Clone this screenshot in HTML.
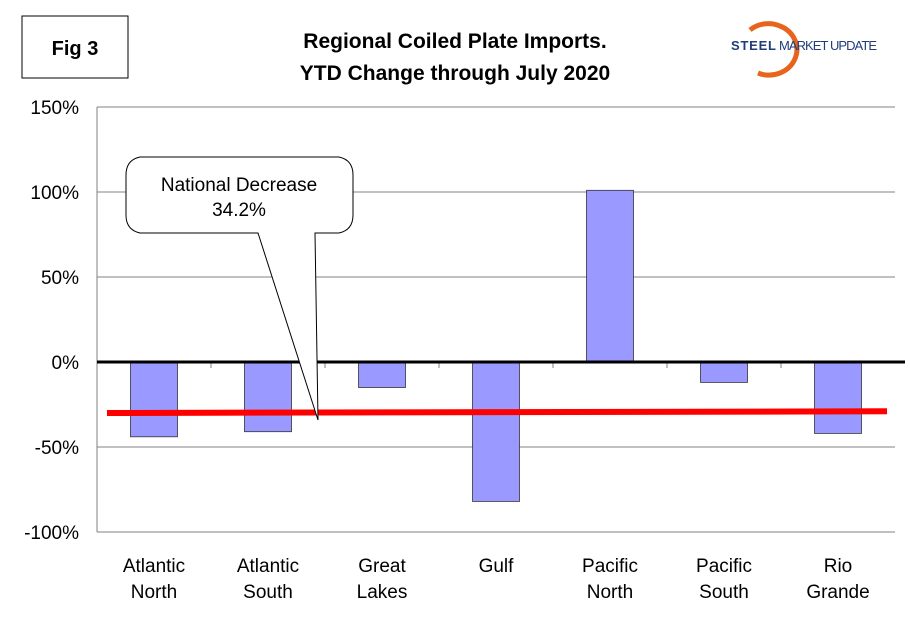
<!DOCTYPE html>
<html><head><meta charset="utf-8"><style>
body{margin:0;background:#fff;}
svg text{font-family:"Liberation Sans",Arial,sans-serif;}
</style></head><body>
<svg id="chart" width="910" height="622" viewBox="0 0 910 622">
<rect x="0" y="0" width="910" height="622" fill="#fff"/>
<rect x="22" y="16" width="106" height="62" fill="#fff" stroke="#000" stroke-width="1"/>
<text x="75" y="55" text-anchor="middle" font-size="20" font-weight="bold">Fig 3</text>
<text x="455" y="48" text-anchor="middle" font-size="21" font-weight="bold">Regional Coiled Plate Imports.</text>
<text x="455" y="80" text-anchor="middle" font-size="21" font-weight="bold">YTD Change through July 2020</text>
<g>
<path d="M750,30 A26,22 0 0,1 780,26 A24,22 0 0,1 758,73" fill="none" stroke="#e8641c" stroke-width="5"/>
<text x="731" y="50" font-size="13" font-weight="bold" fill="#1f3e7a" textLength="45">STEEL</text>
<text x="779" y="50" font-size="13" fill="#1f3e7a" textLength="98">MARKET UPDATE</text>
</g>
<g id="grid"></g>
<g id="bars"></g>
<g id="axes"></g>
<g>
<path d="M140,157 L339,157 Q353,160 353,175 L353,215 Q353,230 339,233 L315,233 L318,420 L258,233 L140,233 Q126,230 126,215 L126,175 Q126,160 140,157 Z" fill="#fff" stroke="#000" stroke-width="1"/>
<text x="239" y="191" text-anchor="middle" font-size="19">National Decrease</text>
<text x="239" y="216" text-anchor="middle" font-size="19">34.2%</text>
</g>
</svg>
<script>
const categories=[["Atlantic","North"],["Atlantic","South"],["Great","Lakes"],["Gulf"],["Pacific","North"],["Pacific","South"],["Rio","Grande"]];
const values=[-44,-41,-15,-82,101,-12,-42];
const yTicks=[150,100,50,0,-50,-100];
const tickLabels=["150%","100%","50%","0%","-50%","-100%"];
const nationalLine=[-30,-29];
const NS="http://www.w3.org/2000/svg";
const X0=97,X1=895,catW=(X1-X0)/categories.length;
function y(v){return 362-v*1.7;}
function xc(i){return X0+catW*(i+0.5);}
function mk(t,a,p){const e=document.createElementNS(NS,t);for(const k in a)e.setAttribute(k,a[k]);document.getElementById(p).appendChild(e);return e;}
yTicks.forEach((v,i)=>{
 if(v!==0&&v!==-100){const g=mk("line",{x1:X0,x2:X1,y1:y(v),y2:y(v),stroke:"#808080","stroke-width":1},"grid");
 
 }
 const t=mk("text",{x:X0-18,y:y(v)+7,"text-anchor":"end","font-size":19},"axes");t.textContent=tickLabels[i];
 
 
});
values.forEach((v,i)=>{
 const b=mk("rect",{x:xc(i)-23.5,y:Math.min(y(0),y(v)),width:47,height:Math.abs(y(v)-y(0)),fill:"#9999ff",stroke:"#333","stroke-width":0.8},"bars");
 
 
 categories[i].forEach((w,j)=>{const t=mk("text",{x:xc(i),y:572+j*26,"text-anchor":"middle","font-size":19},"axes");t.textContent=w;
 
 });
});
for(let i=1;i<categories.length;i++){const l=mk("line",{x1:X0+catW*i,x2:X0+catW*i,y1:y(0),y2:y(0)+6,stroke:"#808080"},"axes");
 
 }
const ya=mk("line",{x1:X0,x2:X0,y1:y(150),y2:y(-100),stroke:"#808080","stroke-width":1},"axes");


const yb=mk("line",{x1:X0,x2:X1,y1:y(-100),y2:y(-100),stroke:"#808080"},"axes");


const z=mk("line",{x1:X0,x2:905,y1:y(0),y2:y(0),stroke:"#000","stroke-width":3},"axes");


const r=mk("line",{x1:107,x2:887,y1:y(nationalLine[0]),y2:y(nationalLine[1]),stroke:"#ff0000","stroke-width":6},"axes");


</script>
</body></html>
